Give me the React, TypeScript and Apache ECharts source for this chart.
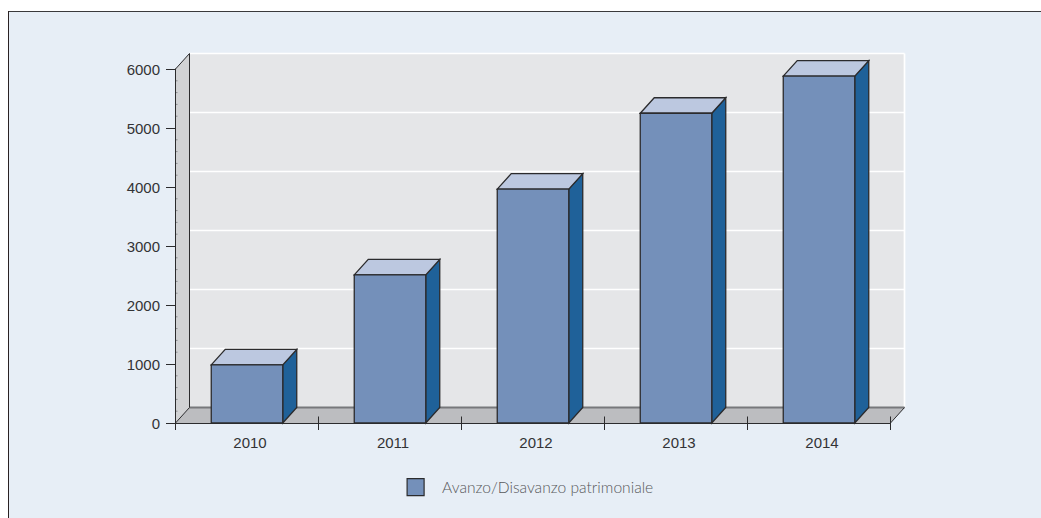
import React, { useEffect, useRef } from "react";
import * as echarts from "echarts";

const years = ["2010", "2011", "2012", "2013", "2014"];
const avanzoPatrimoniale = [985, 2510, 3965, 5250, 5880];
const yMajorTicks = [1000, 2000, 3000, 4000, 5000, 6000];
const yMinorTicks = [200, 400, 600, 800, 1200, 1400, 1600, 1800, 2200, 2400, 2600, 2800, 3200, 3400, 3600, 3800, 4200, 4400, 4600, 4800, 5200, 5400, 5600, 5800];
const seriesName = "Avanzo/Disavanzo patrimoniale";

const DEPTH_X = 14;
const DEPTH_Y = -15.5;
const INK = "#2b2b2d";
const FRONT = "#7490ba";
const TOP = "#bcc8e0";
const SIDE = "#1f6199";

const poly = (points: number[][], fill: string, stroke = "none", lineWidth = 0) => ({
  type: "polygon",
  silent: true,
  shape: { points },
  style: { fill, stroke, lineWidth },
});

const seg = (x1: number, y1: number, x2: number, y2: number, stroke: string, lineWidth = 1) => ({
  type: "line",
  silent: true,
  shape: { x1, y1, x2, y2 },
  style: { stroke, lineWidth, fill: "none" },
});

// Side wall, back wall, floor and the gridlines painted on the back wall.
const renderRoom = (params: any, api: any) => {
  const { x, y, width, height } = params.coordSys;
  const l = x + 0.5;
  const r = x + width + 0.5;
  const t = y;
  const b = y + height;
  const bl = l + DEPTH_X;
  const br = r + DEPTH_X;
  const bt = t + DEPTH_Y;
  const bb = b + DEPTH_Y;
  const band = api.size([1, 0])[0];
  const children: any[] = [
    poly([[bl, bt], [br, bt], [br, bb], [bl, bb]], "#e5e6e8"),
    poly([[l, t], [bl, bt], [bl, bb], [l, b]], "#d1d2d4"),
    poly([[l, b], [bl, bb], [br, bb], [r, b]], "#bcbdc0"),
  ];
  yMajorTicks.forEach((v) => {
    const py = api.coord([0, v])[1] + DEPTH_Y;
    children.push(seg(bl, py, br, py, "#ffffff", 1.7));
  });
  children.push(seg(br, bt, br, bb, "#ffffff", 1.7));
  children.push(seg(bl, bb, br, bb, "#77787b", 2));
  children.push(seg(bl, bt, bl, bb, INK, 1));
  children.push(seg(l, t, bl, bt, INK, 1));
  children.push(seg(l, b, bl, bb, INK, 1));
  children.push(seg(r, b, br, bb, INK, 1));
  yMinorTicks.forEach((v) => {
    const py = api.coord([0, v])[1];
    children.push(seg(l, py, l + 2, py, "#8a8b8e", 1));
  });
  // The category ticks also cross the axis upward, onto the floor.
  for (let i = 0; i <= years.length; i++) {
    const px = Math.round(l + band * i) - 0.5;
    children.push(seg(px, b - 6.5, px, b, INK, 1));
  }
  return { type: "group", children };
};

// One box per year: side and top faces, then the front face.
const renderBox = (_params: any, api: any) => {
  const idx = api.value(0);
  const value = api.value(1);
  const band = api.size([1, 0])[0];
  const center = api.coord([idx, 0])[0] + 0.5;
  const w = band / 2;
  const x0 = center - w / 2;
  const x1 = center + w / 2;
  const yTop = api.coord([idx, value])[1];
  const yBase = api.coord([idx, 0])[1];
  return {
    type: "group",
    children: [
      poly(
        [[x1, yTop], [x1 + DEPTH_X, yTop + DEPTH_Y], [x1 + DEPTH_X, yBase + DEPTH_Y], [x1, yBase]],
        SIDE, INK, 1.3,
      ),
      poly(
        [[x0, yTop], [x0 + DEPTH_X, yTop + DEPTH_Y], [x1 + DEPTH_X, yTop + DEPTH_Y], [x1, yTop]],
        TOP, INK, 1.3,
      ),
      poly([[x0, yTop], [x1, yTop], [x1, yBase], [x0, yBase]], FRONT, INK, 1.3),
    ],
  };
};

export default function App() {
  const ref = useRef<HTMLDivElement>(null);

  useEffect(() => {
    document.body.style.margin = "0";
    const chart = echarts.init(ref.current!, undefined, { renderer: "svg" });
    chart.setOption({
      animation: false,
      backgroundColor: "#ffffff",
      graphic: [
        {
          type: "rect",
          z: -10,
          silent: true,
          shape: { x: 8, y: 11, width: 1033, height: 507 },
          style: { fill: "#e7eef6" },
        },
        { type: "line", z: -9, silent: true, shape: { x1: 8, y1: 11.5, x2: 1041, y2: 11.5 }, style: { stroke: "#3a3a3c", lineWidth: 1 } },
        { type: "line", z: -9, silent: true, shape: { x1: 8.5, y1: 11, x2: 8.5, y2: 518 }, style: { stroke: "#2a2223", lineWidth: 1 } },
      ],
      grid: { left: 175, top: 69, width: 715, height: 354, containLabel: false },
      legend: {
        data: [
          {
            name: seriesName,
            icon: "rect",
            itemStyle: { color: FRONT, borderColor: INK, borderWidth: 1.2 },
          },
        ],
        left: 406.5,
        top: 478,
        padding: 0,
        itemWidth: 17,
        itemHeight: 17,
        selectedMode: false,
        textStyle: {
          fontFamily: "Lato",
          fontSize: 15.6,
          fontWeight: 300,
          color: "#58595b",
          padding: [0, 0, 3, 13],
        },
      },
      xAxis: {
        type: "category",
        data: years,
        z: 5,
        axisLine: { show: true, lineStyle: { color: INK, width: 1 } },
        axisTick: { show: true, alignWithLabel: false, length: 7, lineStyle: { color: INK, width: 1 } },
        axisLabel: { fontFamily: "Liberation Sans", fontSize: 15, color: "#333335", margin: 12, padding: [0, 0, 0, 7] },
        splitLine: { show: false },
      },
      yAxis: {
        type: "value",
        min: 0,
        max: 6000,
        interval: 1000,
        z: 5,
        axisLine: { show: true, lineStyle: { color: INK, width: 1 } },
        axisTick: { show: true, length: 9, lineStyle: { color: INK, width: 1 } },
        axisLabel: {
          fontFamily: "Liberation Sans",
          fontSize: 15,
          color: "#333335",
          margin: 15,
          formatter: (v: number) => String(v),
        },
        splitLine: { show: false },
      },
      series: [
        {
          type: "custom",
          name: "room",
          renderItem: renderRoom,
          data: [[0, 0]],
          encode: { x: 0, y: 1 },
          silent: true,
          z: 1,
          clip: false,
        },
        {
          type: "custom",
          name: seriesName,
          renderItem: renderBox,
          data: avanzoPatrimoniale.map((v, i) => [i, v]),
          encode: { x: 0, y: 1 },
          itemStyle: { color: FRONT },
          z: 2,
          clip: false,
        },
      ],
    });
    return () => chart.dispose();
  }, []);

  return <div ref={ref} style={{ width: 1041, height: 518 }} />;
}
